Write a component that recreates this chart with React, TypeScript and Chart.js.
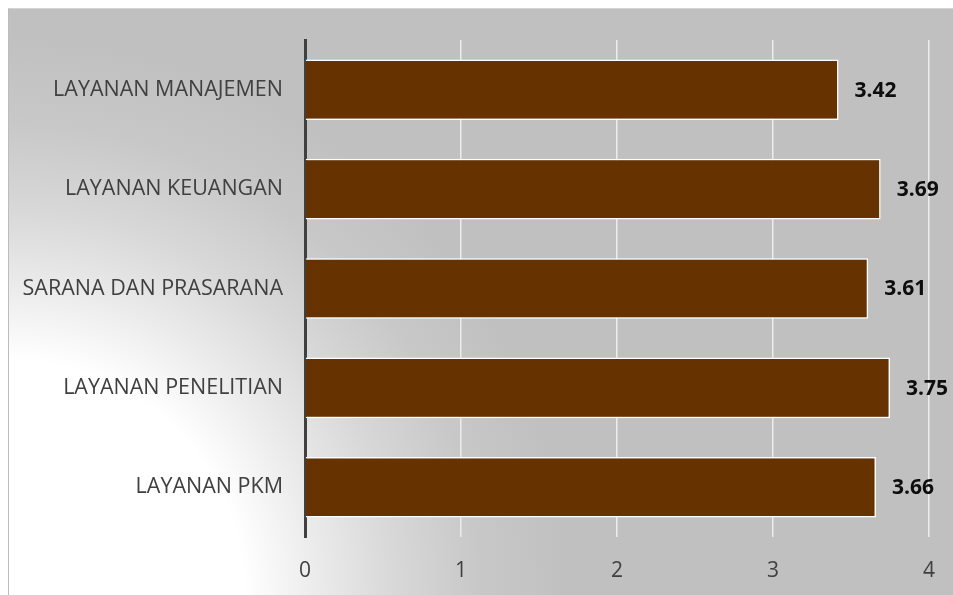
import React, { useEffect, useRef } from "react";
import { Chart, registerables } from "chart.js";

Chart.register(...registerables);

const categories = [
  "LAYANAN MANAJEMEN",
  "LAYANAN KEUANGAN",
  "SARANA DAN PRASARANA",
  "LAYANAN PENELITIAN",
  "LAYANAN PKM",
];
const values = [3.42, 3.69, 3.61, 3.75, 3.66];
const xMin = 0;
const xMax = 4;
const xStep = 1;

const FONT = "'Open Sans', 'DejaVu Sans', sans-serif";

const valueLabels = {
  id: "valueLabels",
  afterDatasetsDraw(chart: any) {
    const ctx = chart.ctx;
    const meta = chart.getDatasetMeta(0);
    ctx.save();
    ctx.font = `bold 21px ${FONT}`;
    ctx.fillStyle = "#0d0d0d";
    ctx.textAlign = "left";
    ctx.textBaseline = "middle";
    meta.data.forEach((bar: any, i: number) => {
      ctx.fillText(values[i].toFixed(2), bar.x + 16, bar.y + 1);
    });
    ctx.restore();
  },
};

function zeroPad(scale: any) {
  scale.paddingTop = 0;
  scale.paddingBottom = 0;
  scale.paddingLeft = 0;
  scale.paddingRight = 0;
}

export default function App() {
  const ref = useRef<HTMLCanvasElement | null>(null);
  useEffect(() => {
    if (!ref.current) return;
    const chart = new Chart(ref.current, {
      type: "bar",
      data: {
        labels: categories,
        datasets: [
          {
            data: values,
            backgroundColor: "#663300",
            borderColor: "#ffffff",
            borderWidth: 1.5,
            barPercentage: 0.61,
            categoryPercentage: 1,
          },
        ],
      },
      options: {
        indexAxis: "y",
        animation: false,
        responsive: true,
        maintainAspectRatio: false,
        layout: { padding: { top: 31, right: 24, left: 0, bottom: 0 } },
        plugins: {
          legend: { display: false },
          tooltip: { enabled: false },
        },
        scales: {
          x: {
            min: xMin,
            max: xMax,
            ticks: {
              stepSize: xStep,
              color: "#404040",
              font: { family: FONT, size: 21 },
              padding: 21,
            },
            grid: {
              color: "#ececec",
              lineWidth: 1.5,
              drawTicks: false,
            },
            border: { display: false },
            afterFit: (scale: any) => {
              scale.height = 58;
              zeroPad(scale);
            },
          },
          y: {
            ticks: {
              color: "#404040",
              font: { family: FONT, size: 21.5 },
              padding: 22,
            },
            grid: { display: false, drawTicks: false },
            border: { display: true, color: "#404040", width: 3 },
            afterFit: (scale: any) => {
              scale.width = 296;
              zeroPad(scale);
            },
          },
        },
      },
      plugins: [valueLabels],
    });
    return () => chart.destroy();
  }, []);

  return (
    <div
      style={{
        position: "fixed",
        left: 8,
        top: 8,
        width: 945,
        height: 587,
        boxSizing: "border-box",
        borderLeft: "1px solid #bcbcbc",
        borderTop: "1px solid #d4d4d4",
        background:
          "radial-gradient(circle at 0% 100%, #ffffff 0px, #ffffff 235px, #ececec 305px, #d8d8d8 385px, #c8c8c8 470px, #c0c0c0 560px, #c0c0c0 2000px)",
      }}
    >
      <div style={{ position: "relative", width: 944, height: 586 }}>
        <canvas ref={ref} />
      </div>
    </div>
  );
}
